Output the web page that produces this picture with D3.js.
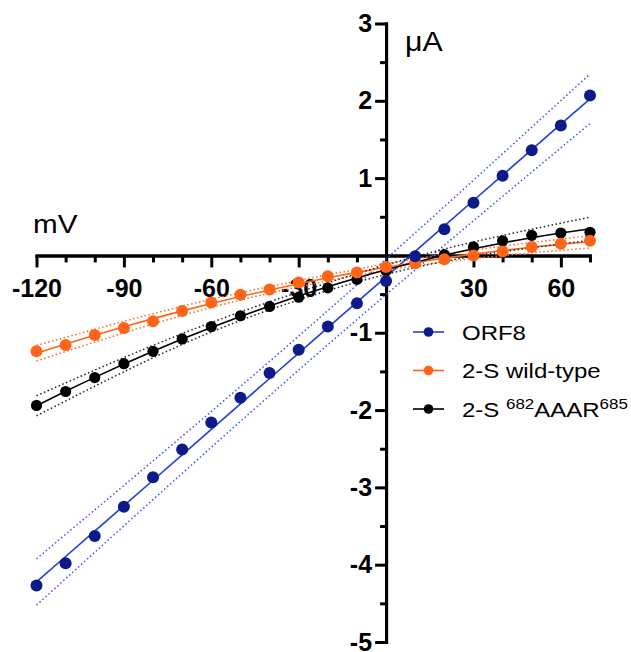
<!DOCTYPE html>
<html>
<head>
<meta charset="utf-8">
<script src="https://cdn.jsdelivr.net/npm/d3@7"></script>
<style>
  body { margin: 0; background: #fff; }
  svg { display: block; font-family: "Liberation Sans", Arial, sans-serif; }
</style>
</head>
<body>
<div id="viz"></div>
<script>
// membrane potential steps (mV)
const voltages = [-120, -110, -100, -90, -80, -70, -60, -50, -40, -30, -20, -10, 0, 10, 20, 30, 40, 50, 60, 70];

// current (uA)
const orf8 = [-4.27, -3.98, -3.63, -3.25, -2.87, -2.51, -2.16, -1.84, -1.52, -1.22, -0.92, -0.62, -0.33, -0.01, 0.34, 0.68, 1.03, 1.36, 1.68, 2.07];
const wildType = [-1.24, -1.16, -1.03, -0.94, -0.85, -0.72, -0.61, -0.51, -0.44, -0.35, -0.27, -0.22, -0.15, -0.10, -0.05, 0.0, 0.05, 0.11, 0.15, 0.19];
const aaar = [-1.94, -1.76, -1.58, -1.40, -1.24, -1.08, -0.92, -0.78, -0.66, -0.54, -0.42, -0.31, -0.20, -0.09, 0.01, 0.11, 0.19, 0.26, 0.29, 0.30];

// confidence band half widths (uA) at these voltages
const bandX = [-120, -70, -25, 20, 70];
const orf8Band = [0.30, 0.24, 0.22, 0.25, 0.32];
const wildTypeBand = [0.10, 0.06, 0.04, 0.05, 0.08];
const aaarBand = [0.13, 0.07, 0.05, 0.08, 0.15];

const xTicksMajor = [-120, -90, -60, -30, 30, 60];
const xTicksMinor = [-110, -100, -80, -70, -50, -40, -20, -10, 0, 10, 20, 40, 50, 70];
const yTicksMajor = [3, 2, 1, -1, -2, -3, -4, -5];
const yTicksMinor = [2.5, 1.5, 0.5, -0.5, -1.5, -2.5, -3.5, -4.5];

const series = [
  { name: "ORF8", values: orf8, band: orf8Band, degree: 1, dot: "#0c1a8a", line: "#1f3fdc", dash: "#3f52f2", r: 6 },
  { name: "2-S wild-type", values: wildType, band: wildTypeBand, degree: 2, dot: "#ff6519", line: "#ff6519", dash: "#ff6a20", r: 6 },
  { name: "2-S AAAR", values: aaar, band: aaarBand, degree: 2, dot: "#000", line: "#000", dash: "#222", r: 5.6 }
];

// least squares polynomial fit
function polyfit(xs, ys, deg) {
  const n = deg + 1;
  const A = [];
  for (let i = 0; i < n; i++) {
    A.push(new Array(n + 1).fill(0));
    for (let j = 0; j < n; j++) {
      A[i][j] = d3.sum(xs, x => Math.pow(x, i + j));
    }
    A[i][n] = d3.sum(xs, (x, k) => ys[k] * Math.pow(x, i));
  }
  for (let c = 0; c < n; c++) {
    for (let r = c + 1; r < n; r++) {
      const f = A[r][c] / A[c][c];
      for (let k = c; k <= n; k++) A[r][k] -= f * A[c][k];
    }
  }
  const coef = new Array(n).fill(0);
  for (let r = n - 1; r >= 0; r--) {
    let s = A[r][n];
    for (let k = r + 1; k < n; k++) s -= A[r][k] * coef[k];
    coef[r] = s / A[r][r];
  }
  return x => coef.reduce((acc, c, i) => acc + c * Math.pow(x, i), 0);
}

const width = 631, height = 652;

const svg = d3.select("#viz")
  .append("svg")
  .attr("width", width)
  .attr("height", height);

const x = d3.scaleLinear().domain([-120, 70]).range([36.5, 590]);
const y = d3.scaleLinear().domain([-5, 3]).range([642, 23.5]);

const x0 = x(0), y0 = y(0);
const plain = d => String(d);   // hyphen, not unicode minus

// x axis (minor then major ticks)
const xMinorG = svg.append("g")
  .attr("transform", `translate(0,${y0})`)
  .call(d3.axisBottom(x).tickValues(xTicksMinor).tickSize(7).tickSizeOuter(0).tickFormat(""));
const xMajorG = svg.append("g")
  .attr("transform", `translate(0,${y0})`)
  .call(d3.axisBottom(x).tickValues(xTicksMajor).tickSize(12).tickSizeOuter(0).tickPadding(12).tickFormat(plain));

// y axis
const yMinorG = svg.append("g")
  .attr("transform", `translate(${x0},0)`)
  .call(d3.axisLeft(y).tickValues(yTicksMinor).tickSize(6).tickSizeOuter(0).tickFormat(""));
const yMajorG = svg.append("g")
  .attr("transform", `translate(${x0},0)`)
  .call(d3.axisLeft(y).tickValues(yTicksMajor).tickSize(11).tickSizeOuter(0).tickPadding(3).tickFormat(plain));

[xMinorG, xMajorG, yMinorG, yMajorG].forEach(g => {
  g.select(".domain").attr("stroke", "#000").attr("stroke-width", 3).attr("stroke-linecap", "square");
  g.selectAll(".tick line").attr("stroke", "#000").attr("stroke-width", 3);
  g.selectAll(".tick text")
    .attr("fill", "#000")
    .style("font-size", "25px")
    .style("font-weight", "bold")
    .style("font-family", "'Liberation Sans', Arial, sans-serif");
});
yMajorG.selectAll(".tick text").attr("text-anchor", "end");

// axis titles
svg.append("text")
  .attr("transform", "translate(33,233) scale(1.14,1)")
  .style("font-size", "26px")
  .text("mV");

svg.append("text")
  .attr("transform", "translate(405,51) scale(1.12,1)")
  .style("font-size", "27px")
  .text("\u03bcA");

// fits, bands and points
const lineGen = d3.line().x(d => x(d[0])).y(d => y(d[1]));
const bandGen = d3.line().x(d => x(d[0])).y(d => y(d[1])).curve(d3.curveNatural);

series.forEach(s => {
  const fit = polyfit(voltages, s.values, s.degree);
  const g = svg.append("g");

  const upper = bandX.map((v, i) => [v, fit(v) + s.band[i]]);
  const lower = bandX.map((v, i) => [v, fit(v) - s.band[i]]);
  [upper, lower].forEach(b => {
    g.append("path")
      .attr("d", bandGen(b))
      .attr("fill", "none")
      .attr("stroke", s.dash)
      .attr("stroke-width", 1.5)
      .attr("stroke-dasharray", "1.5,2.5");
  });

  const fitPts = voltages.map(v => [v, fit(v)]);
  g.append("path")
    .attr("d", lineGen.curve(s.degree === 1 ? d3.curveLinear : d3.curveNatural)(fitPts))
    .attr("fill", "none")
    .attr("stroke", s.line)
    .attr("stroke-width", 1.6);
});

// points last so they sit on top of everything
series.slice().reverse().forEach(s => {
  svg.append("g")
    .selectAll("circle")
    .data(voltages.map((v, i) => [v, s.values[i]]))
    .join("circle")
    .attr("cx", d => x(d[0]))
    .attr("cy", d => y(d[1]))
    .attr("r", s.r)
    .attr("fill", s.dot);
});

// legend
const legendY = [332, 370.5, 409];
const legend = svg.append("g");
series.forEach((s, i) => {
  const row = legend.append("g").attr("transform", `translate(0,${legendY[i]})`);
  row.append("line")
    .attr("x1", 413).attr("x2", 444)
    .attr("stroke", s.line)
    .attr("stroke-width", 1.6);
  row.append("circle")
    .attr("cx", 428.5)
    .attr("r", 4.8)
    .attr("fill", s.dot);
  const t = row.append("text")
    .attr("transform", "translate(462,7.5) scale(1.17,1)")
    .style("font-size", "20.5px");
  if (i < 2) {
    t.text(s.name);
  } else {
    t.append("tspan").text("2-S ");
    t.append("tspan").attr("dy", -8).style("font-size", "14.5px").text("682");
    t.append("tspan").attr("dy", 8).text("AAAR");
    t.append("tspan").attr("dy", -8).style("font-size", "14.5px").text("685");
  }
});
</script>
</body>
</html>
